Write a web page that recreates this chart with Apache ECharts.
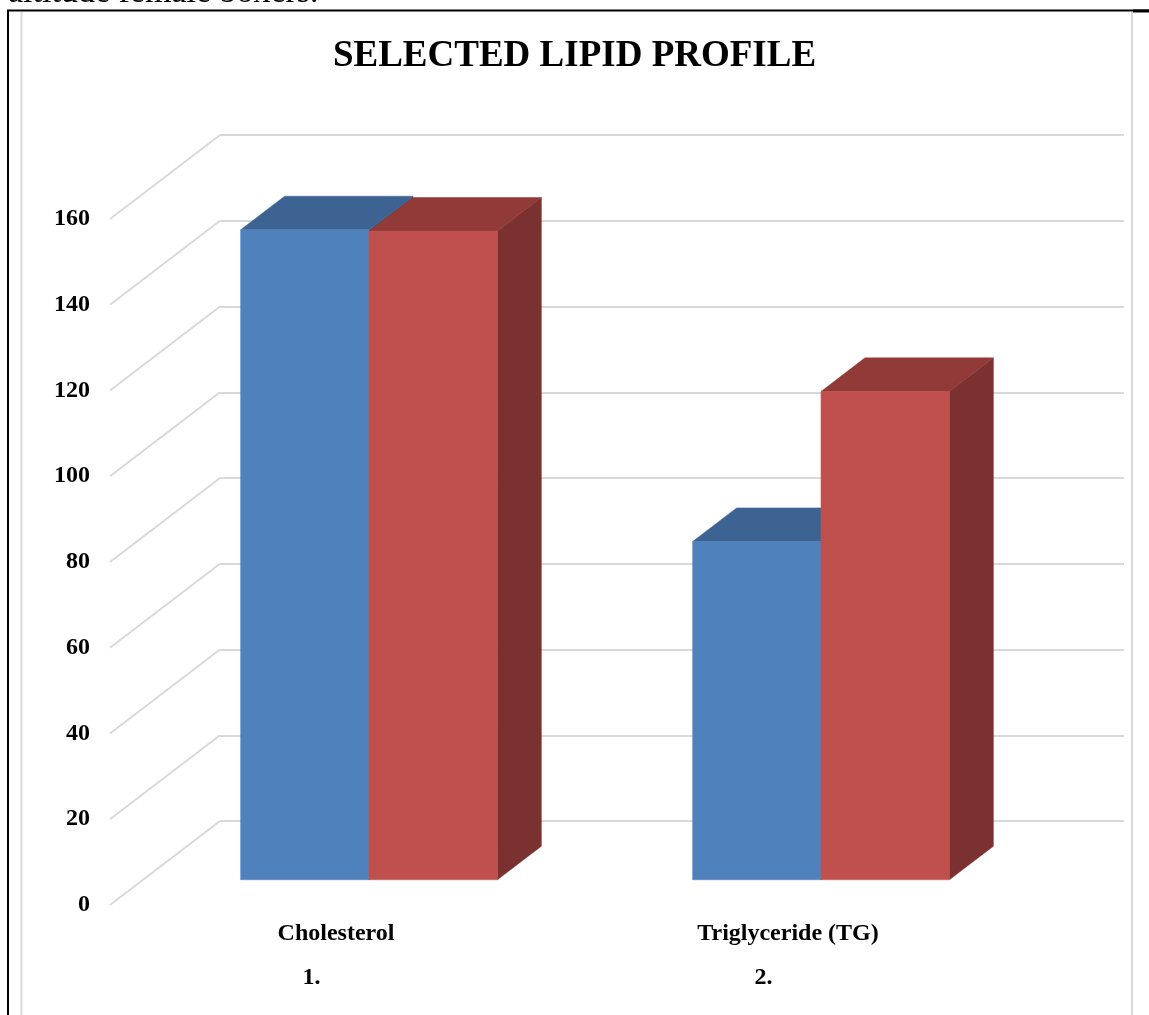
<!DOCTYPE html>
<html>
<head>
<meta charset="utf-8">
<script src="https://cdn.jsdelivr.net/npm/echarts@6/dist/echarts.min.js"></script>
<style>
  html, body { margin: 0; padding: 0; background: #fff; }
  #chart { width: 1149px; height: 1015px; }
</style>
</head>
<body>
<div id="chart"></div>
<script>
// Data
const categories = ['Cholesterol', 'Triglyceride (TG)'];
const categoryNumbers = ['1.', '2.'];
const groupA = [151.6, 78.9];
const groupB = [151.3, 113.9];
const yTicks = [0, 20, 40, 60, 80, 100, 120, 140, 160];

// 3D look: oblique offset of the back wall relative to the front plane (px)
const DEPTH = [110, -84];
const BAR_FRONT = 0.3;   // bar front face, fraction of wall depth
const BAR_BACK = 0.7;    // bar back face, fraction of wall depth
const BAR_FRAC = 0.284;  // bar width as fraction of category width

const FONT = 'Liberation Serif';
const GRID_COLOR = '#D9D9D9';

const chart = echarts.init(document.getElementById('chart'), null, { renderer: 'canvas' });

function barRenderer(side, colors) {
  return function (params, api) {
    const cat = api.value(0);
    const val = api.value(1);
    const base = api.coord([cat, 0]);
    const top = api.coord([cat, val]);
    const bw = api.size([1, 0])[0] * BAR_FRAC;
    const x0 = side === 0 ? base[0] - bw : base[0];
    const x1 = x0 + bw;
    const fx = DEPTH[0] * BAR_FRONT, fy = DEPTH[1] * BAR_FRONT;
    const bx = DEPTH[0] * BAR_BACK, by = DEPTH[1] * BAR_BACK;
    const yT = top[1], yB = base[1];
    return {
      type: 'group',
      children: [
        {
          type: 'polygon',
          shape: { points: [[x1 + fx, yT + fy], [x1 + bx, yT + by], [x1 + bx, yB + by], [x1 + fx, yB + fy]] },
          style: { fill: colors.side, stroke: colors.side, lineWidth: 0.5 }
        },
        {
          type: 'polygon',
          shape: { points: [[x0 + fx, yT + fy], [x1 + fx, yT + fy], [x1 + bx, yT + by], [x0 + bx, yT + by]] },
          style: { fill: colors.top, stroke: colors.top, lineWidth: 0.5 }
        },
        {
          type: 'rect',
          shape: { x: x0 + fx, y: yT + fy, width: bw, height: yB - yT },
          style: { fill: colors.front, stroke: colors.front, lineWidth: 0.5 }
        }
      ]
    };
  };
}

const option = {
  animation: false,
  backgroundColor: '#ffffff',
  textStyle: { fontFamily: FONT },
  title: {
    text: 'SELECTED LIPID PROFILE',
    left: 'center',
    top: 33,
    textStyle: { fontFamily: FONT, fontSize: 37, fontWeight: 'bold', color: '#000' }
  },
  grid: [
    { left: 110, right: 135, top: 219, bottom: 110, outerBoundsMode: 'none' },
    { left: 220, right: 25, top: 135, bottom: 194, outerBoundsMode: 'none' }
  ],
  xAxis: [
    {
      type: 'category',
      gridIndex: 0,
      data: categories,
      axisLine: { show: false },
      axisTick: { show: false },
      splitLine: { show: false },
      axisLabel: {
        margin: 7,
        interval: 0,
        formatter: function (value, index) {
          return '{name|' + value + '}\n{num|' + categoryNumbers[index] + '}';
        },
        rich: {
          name: { fontFamily: FONT, fontSize: 24, fontWeight: 'bold', color: '#000', lineHeight: 44 },
          num: { fontFamily: FONT, fontSize: 24, fontWeight: 'bold', color: '#000', lineHeight: 44, padding: [0, 49, 0, 0] }
        }
      }
    },
    {
      type: 'category',
      gridIndex: 1,
      data: categories,
      show: false
    }
  ],
  yAxis: [
    {
      type: 'value',
      gridIndex: 0,
      min: yTicks[0],
      max: yTicks[yTicks.length - 1],
      interval: yTicks[1] - yTicks[0],
      axisLine: { show: false },
      axisTick: { show: false },
      splitLine: { show: false },
      axisLabel: { margin: 20, fontFamily: FONT, fontSize: 24, fontWeight: 'bold', color: '#000' }
    },
    {
      // back wall gridlines
      type: 'value',
      gridIndex: 1,
      min: yTicks[0],
      max: yTicks[yTicks.length - 1],
      interval: yTicks[1] - yTicks[0],
      axisLine: { show: false },
      axisTick: { show: false },
      axisLabel: { show: false },
      splitLine: { show: true, lineStyle: { color: GRID_COLOR, width: 2 } }
    }
  ],
  graphic: [
    {
      type: 'text',
      left: 8,
      top: -24,
      style: { text: 'altitude female boxers.', fontFamily: FONT, fontSize: 34, fontWeight: 'normal', fill: '#000' }
    },
    { type: 'line', shape: { x1: 8, y1: 10, x2: 8, y2: 1015 }, style: { stroke: '#000', lineWidth: 2 } },
    { type: 'line', shape: { x1: 7, y1: 10.5, x2: 1149, y2: 10.5 }, style: { stroke: '#000', lineWidth: 2 } },
    { type: 'line', shape: { x1: 1133, y1: 11, x2: 1149, y2: 11 }, style: { stroke: '#000', lineWidth: 3 } },
    { type: 'line', shape: { x1: 21.5, y1: 12, x2: 21.5, y2: 1015 }, style: { stroke: GRID_COLOR, lineWidth: 2 } },
    { type: 'line', shape: { x1: 1132, y1: 12, x2: 1132, y2: 1015 }, style: { stroke: GRID_COLOR, lineWidth: 2 } }
  ],
  series: [
    {
      // side-wall gridlines
      type: 'custom',
      xAxisIndex: 0,
      yAxisIndex: 0,
      silent: true,
      z: 1,
      data: yTicks.map(v => [0, v]),
      encode: { x: 0, y: 1 },
      renderItem: function (params, api) {
        const x = params.coordSys.x;
        const y = api.coord([0, api.value(1)])[1];
        return {
          type: 'line',
          shape: { x1: x, y1: y, x2: x + DEPTH[0], y2: y + DEPTH[1] },
          style: { stroke: GRID_COLOR, lineWidth: 2 }
        };
      }
    },
    {
      type: 'custom',
      xAxisIndex: 0,
      yAxisIndex: 0,
      z: 2,
      data: groupA.map((v, i) => [i, v]),
      encode: { x: 0, y: 1 },
      renderItem: barRenderer(0, { front: '#4F81BD', top: '#3D6392', side: '#345479' })
    },
    {
      type: 'custom',
      xAxisIndex: 0,
      yAxisIndex: 0,
      z: 3,
      data: groupB.map((v, i) => [i, v]),
      encode: { x: 0, y: 1 },
      renderItem: barRenderer(1, { front: '#C0504D', top: '#913A38', side: '#7B3130' })
    }
  ]
};

chart.setOption(option);
</script>
</body>
</html>
